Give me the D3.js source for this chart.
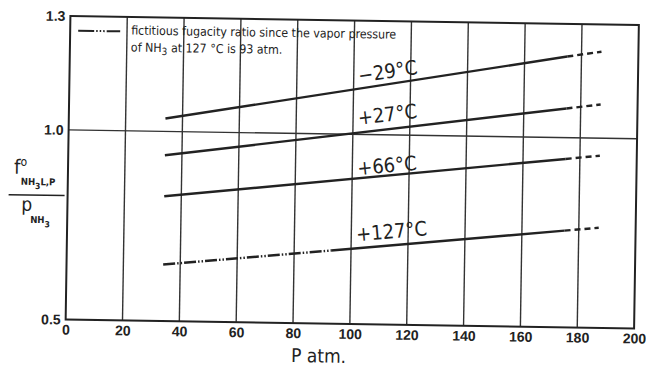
<!DOCTYPE html>
<html lang="en">
<head>
    <meta charset="UTF-8"/>
    <title>fugacity ratio</title>
    <script src="https://d3js.org/d3.v7.min.js"></script>
    <style type="text/css">
        body { margin: 0; background: #fff; }
        text {
            font-family: "DejaVu Sans Condensed", "Liberation Sans Narrow", sans-serif;
            fill: #222;
        }
        .tick text {
            font-family: "Liberation Sans", Arial, sans-serif;
            font-weight: bold;
            font-size: 14px;
        }
        .grid line { stroke: #333; stroke-width: 1.4; }
    </style>
</head>
<body>
<div id="chart"></div>
<script>

// pressure (atm) break points: start, end of solid part, end of dashed part
var pressures = [34, 175, 187];
var ratioM29 = [1.034, 1.214, 1.228];
var ratioP27 = [0.937, 1.077, 1.089];
var ratioP66 = [0.829, 0.944, 0.954];
// +127 C is dash-dot below its vapor pressure (93 atm)
var pressures127 = [34, 93, 175, 187];
var ratioP127 = [0.649, 0.693, 0.755, 0.764];

var seriesLabels = ["\u221229\u00b0C", "+27\u00b0C", "+66\u00b0C", "+127\u00b0C"];
var xTicks = [0, 20, 40, 60, 80, 100, 120, 140, 160, 180, 200];
var yTicks = [0.5, 1.0, 1.3];

var series = [
  {label: seriesLabels[0], p: pressures, v: ratioM29, segs: ["solid", "dash"]},
  {label: seriesLabels[1], p: pressures, v: ratioP27, segs: ["solid", "dash"]},
  {label: seriesLabels[2], p: pressures, v: ratioP66, segs: ["solid", "dash"]},
  {label: seriesLabels[3], p: pressures127, v: ratioP127, segs: ["dashdot", "solid", "dash"]}
];

var dashes = {solid: null, dash: "6,4", dashdot: "12,2,1.5,2,1.5,2"};
// label baseline offset above the line (px)
var labelLift = [6, 8, 3, 7];

var margin = {top: 20.5, right: 10, bottom: 42, left: 68},
    W = 646, H = 366,
    width = 636.5 - margin.left,
    height = 324 - margin.top;

var svg = d3.select("#chart")
  .append("svg")
    .attr("width", W)
    .attr("height", H);

// the scan is slightly tilted
var root = svg.append("g")
    .attr("transform", "rotate(0.9,350,172)");

var g = root.append("g")
    .attr("transform", "translate(" + margin.left + "," + margin.top + ")");

var x = d3.scaleLinear().domain([0, 200]).range([0, width]);
var y = d3.scaleLinear().domain([0.5, 1.3]).range([height, 0]);

// vertical grid
g.append("g").attr("class", "grid")
  .selectAll("line")
  .data(xTicks.slice(1, -1))
  .enter().append("line")
    .attr("x1", function(d) { return x(d); })
    .attr("x2", function(d) { return x(d); })
    .attr("y1", 0)
    .attr("y2", height);

// 1.0 reference line
g.append("line")
  .attr("x1", 0).attr("x2", width)
  .attr("y1", y(1.0)).attr("y2", y(1.0))
  .attr("stroke", "#333").attr("stroke-width", 1.4);

// frame
g.append("rect")
  .attr("width", width).attr("height", height)
  .attr("fill", "none").attr("stroke", "#222").attr("stroke-width", 2);

// axes
var xAxis = g.append("g")
  .attr("transform", "translate(0," + height + ")")
  .call(d3.axisBottom(x).tickValues(xTicks).tickSize(0).tickPadding(5));
xAxis.select(".domain").remove();

var yAxis = g.append("g")
  .call(d3.axisLeft(y).tickValues(yTicks).tickSize(0).tickPadding(5).tickFormat(d3.format(".1f")));
yAxis.select(".domain").remove();

// isotherms
var line = d3.line()
  .x(function(d) { return x(d[0]); })
  .y(function(d) { return y(d[1]); });

series.forEach(function(s, i) {
  s.segs.forEach(function(st, k) {
    var pts = [[s.p[k], s.v[k]], [s.p[k + 1], s.v[k + 1]]];
    g.append("path")
      .datum(pts)
      .attr("d", line)
      .attr("fill", "none")
      .attr("stroke", "#222")
      .attr("stroke-width", 2.4)
      .attr("stroke-dasharray", dashes[st]);
  });

  // label along the line near P = 102
  var n = s.p.length - 1;
  var slope = (s.v[n] - s.v[0]) / (s.p[n] - s.p[0]);
  var lp = 102, lv = s.v[0] + slope * (lp - s.p[0]);
  var ang = Math.atan2(y(s.v[n]) - y(s.v[0]), x(s.p[n]) - x(s.p[0])) * 180 / Math.PI;
  g.append("text")
    .attr("transform", "translate(" + x(lp) + "," + (y(lv) - labelLift[i]) + ") rotate(" + ang + ")")
    .attr("font-size", 20)
    .text(s.label);
});

// legend
var leg = root.append("g");
leg.append("line")
  .attr("x1", 76).attr("x2", 118).attr("y1", 35).attr("y2", 35)
  .attr("stroke", "#222").attr("stroke-width", 2)
  .attr("stroke-dasharray", "16,2,1.5,2,1.5,2,1.5,2,20");
leg.append("text")
  .attr("x", 129).attr("y", 38)
  .attr("font-size", 12.3)
  .text("fictitious fugacity ratio since the vapor pressure");
var l2 = leg.append("text")
  .attr("x", 129).attr("y", 55)
  .attr("font-size", 12.3);
l2.append("tspan").text("of NH");
l2.append("tspan").attr("dy", 3).attr("font-size", 10).text("3");
l2.append("tspan").attr("dy", -3).text("  at 127 \u00b0C is 93 atm.");

// x title
root.append("text")
  .attr("x", 294).attr("y", 363)
  .attr("font-size", 19)
  .text("P atm.");

// y title: f°(NH3 L,P) / p(NH3)
var yt = root.append("g");
var t1 = yt.append("text").attr("x", 14).attr("y", 179).attr("font-size", 20);
t1.append("tspan").text("f");
t1.append("tspan").attr("dy", -8).attr("font-size", 12).text("o");
var t2 = yt.append("text").attr("x", 21).attr("y", 190).attr("font-size", 9.5).attr("font-weight", "bold");
t2.append("tspan").text("NH");
t2.append("tspan").attr("dy", 4).attr("font-size", 8.5).text("3");
t2.append("tspan").attr("dy", -4).text("L,P");
yt.append("line")
  .attr("x1", 9).attr("x2", 65).attr("y1", 200).attr("y2", 200)
  .attr("stroke", "#222").attr("stroke-width", 1.5);
yt.append("text").attr("x", 22).attr("y", 216).attr("font-size", 19).text("p");
var t3 = yt.append("text").attr("x", 31).attr("y", 228).attr("font-size", 9.5).attr("font-weight", "bold");
t3.append("tspan").text("NH");
t3.append("tspan").attr("dy", 4).attr("font-size", 8.5).text("3");

</script>
</body>
</html>
